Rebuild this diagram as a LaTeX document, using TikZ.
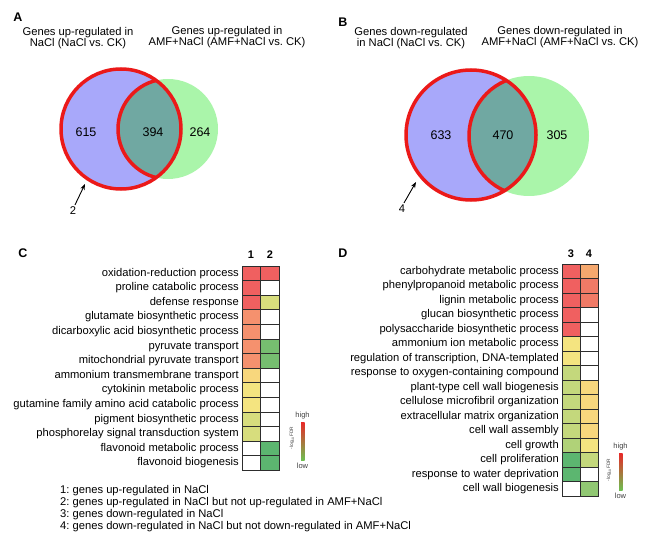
\documentclass[tikz,border=0pt]{standalone}
\usepackage{fontspec}
\setmainfont{Liberation Sans}
\usetikzlibrary{arrows.meta}
\frenchspacing

\definecolor{vennLeft}{RGB}{168,168,250}
\definecolor{vennRight}{RGB}{170,245,170}
\definecolor{vennBoth}{RGB}{112,168,162}
\definecolor{ringRed}{RGB}{235,25,25}
\definecolor{gridLine}{RGB}{45,45,45}
\definecolor{goRed}{RGB}{240,96,96}
\definecolor{goRedOrange}{RGB}{240,122,102}
\definecolor{goSalmon}{RGB}{245,145,110}
\definecolor{goOrange}{RGB}{245,168,110}
\definecolor{goGold}{RGB}{248,215,125}
\definecolor{goYellow}{RGB}{244,228,128}
\definecolor{goOlive}{RGB}{215,221,125}
\definecolor{goLime}{RGB}{196,216,124}
\definecolor{goLeaf}{RGB}{176,210,120}
\definecolor{goGreen}{RGB}{118,190,112}
\definecolor{goDeep}{RGB}{92,182,112}
\definecolor{goMoss}{RGB}{145,200,115}
\definecolor{barRed}{RGB}{232,40,40}
\definecolor{barYellow}{RGB}{242,228,110}
\definecolor{barGreen}{RGB}{110,190,80}

\begin{document}
\frenchspacing
\begin{tikzpicture}[x=1pt, y=-1pt,
  every node/.style = {inner sep=0pt, font=\fontsize{11.2}{11.6}\selectfont},
  panel/.style = {font=\fontsize{12.5}{14}\selectfont\bfseries},
  title/.style = {align=center},
  count/.style = {font=\fontsize{12.5}{14}\selectfont},
  colhead/.style = {font=\fontsize{11}{12}\selectfont\bfseries},
  term/.style = {anchor=east, text height=8pt, text depth=2.5pt},
  note/.style = {anchor=west, text height=8pt, text depth=2.5pt},
  cell/.style = {draw=gridLine, line width=0.9pt},
  ring/.style = {draw=ringRed, line width=3.5pt},
  pointer/.style = {-{Stealth[length=6pt,width=4.5pt]}, line width=0.9pt},
  scale label/.style = {font=\fontsize{7.5}{8}\selectfont, text=black!75},
  scale title/.style = {font=\fontsize{4.8}{5}\selectfont, text=black!75, rotate=90}]
\useasboundingbox (0,0) rectangle (652,545);

% A
\node[panel] (panelA) at (18,17) {A};
\node[title] (titleAL) at (78,38) {Genes up-regulated in\\NaCl (NaCl vs. CK)};
\node[title] (titleAR) at (227,37) {Genes up-regulated in\\AMF+NaCl (AMF+NaCl vs. CK)};
\coordinate (upL) at (121,129);
\coordinate (upR) at (168,129);
\fill[vennLeft] (upL) circle[radius=60pt];
\fill[vennRight] (upR) circle[radius=50pt];
\begin{scope}
  \clip (upL) circle[radius=60pt];
  \fill[vennBoth] (upR) circle[radius=50pt];
  \draw[ring] (upR) circle[radius=50pt];
\end{scope}
\draw[ring] (upL) circle[radius=60pt];
\node[count] (upOnly) at (86,132) {615};
\node[count] (upBoth) at (153,132) {394};
\node[count] (upAmf) at (200,132) {264};
\coordinate (tipA) at (85,184);
\node (markA) at (73,211) {2};
\draw[pointer] ([xshift=2pt,yshift=2pt]markA.north) -- (tipA);

% B
\node[panel] (panelB) at (343,22) {B};
\node[title] (titleBL) at (411,38) {Genes down-regulated\\in NaCl (NaCl vs. CK)};
\node[title] (titleBR) at (560,37) {Genes down-regulated in\\AMF+NaCl (AMF+NaCl vs. CK)};
\coordinate (downL) at (471,135);
\coordinate (downR) at (529,136);
\fill[vennLeft] (downL) circle[radius=65pt];
\fill[vennRight] (downR) circle[radius=60pt];
\begin{scope}
  \clip (downL) circle[radius=65pt];
  \fill[vennBoth] (downR) circle[radius=60pt];
  \draw[ring] (downR) circle[radius=60pt];
\end{scope}
\draw[ring] (downL) circle[radius=65pt];
\node[count] (downOnly) at (441,135) {633};
\node[count] (downBoth) at (503,135) {470};
\node[count] (downAmf) at (557,135) {305};
\coordinate (tipB) at (416,182);
\node (markB) at (402,209) {4};
\draw[pointer] ([xshift=2pt,yshift=2pt]markB.north) -- (tipB);

% C
\node[panel] (panelC) at (23,253) {C};
\node[colhead] (headOne) at (251,255) {1};
\node[colhead] (headTwo) at (270,255) {2};
\foreach \go/\ca/\cb [count=\i] in {
  oxidation-reduction process/goRed/goRed,
  proline catabolic process/goRed/white,
  defense response/goRed/goOlive,
  glutamate biosynthetic process/goSalmon/white,
  dicarboxylic acid biosynthetic process/goSalmon/white,
  pyruvate transport/goSalmon/goGreen,
  mitochondrial pyruvate transport/goSalmon/goGreen,
  ammonium transmembrane transport/goGold/white,
  cytokinin metabolic process/goYellow/white,
  gutamine family amino acid catabolic process/goYellow/white,
  pigment biosynthetic process/goOlive/white,
  phosphorelay signal transduction system/goOlive/white,
  flavonoid metabolic process/white/goDeep,
  flavonoid biogenesis/white/goDeep}{
  \node[term] (termC\i) at (239,{258.7+\i*14.6}) {\go};
  \draw[cell, fill=\ca] (242,{251.4+\i*14.6}) rectangle ++(18.5,14.6);
  \draw[cell, fill=\cb] (260.5,{251.4+\i*14.6}) rectangle ++(18.5,14.6);
}
\shade[top color=barRed, middle color=barYellow, bottom color=barGreen] (301,422) rectangle (304.5,460);
\node[scale label] (highC) at (302.5,416) {high};
\node[scale label] (lowC) at (302.5,466) {low};
\node[scale title] (fdrC) at (292,438) {-log\textsubscript{10}FDR};

% D
\node[panel] (panelD) at (343,253) {D};
\node[colhead] (headThree) at (571,254) {3};
\node[colhead] (headFour) at (589,254) {4};
\foreach \go/\ca/\cb [count=\i] in {
  carbohydrate metabolic process/goRed/goOrange,
  phenylpropanoid metabolic process/goRed/goRedOrange,
  lignin metabolic process/goRed/goRedOrange,
  glucan biosynthetic process/goRed/white,
  polysaccharide biosynthetic process/goRed/white,
  ammonium ion metabolic process/goYellow/white,
  {regulation of transcription, DNA-templated}/goYellow/white,
  response to oxygen-containing compound/goLime/white,
  plant-type cell wall biogenesis/goLime/goGold,
  cellulose microfibril organization/goLime/goGold,
  extracellular matrix organization/goLime/goGold,
  cell wall assembly/goLime/goGold,
  cell growth/goLeaf/goYellow,
  cell proliferation/goDeep/goLime,
  response to water deprivation/goDeep/white,
  cell wall biogenesis/white/goMoss}{
  \node[term] (termD\i) at (559,{256.75+\i*14.5}) {\go};
  \draw[cell, fill=\ca] (562,{249.5+\i*14.5}) rectangle ++(18,14.5);
  \draw[cell, fill=\cb] (580,{249.5+\i*14.5}) rectangle ++(18,14.5);
}
\shade[top color=barRed, middle color=barYellow, bottom color=barGreen] (619,453) rectangle (622.5,490);
\node[scale label] (highD) at (620.5,447) {high};
\node[scale label] (lowD) at (620.5,496) {low};
\node[scale title] (fdrD) at (609,470) {-log\textsubscript{10}FDR};

% key to the columns
\foreach \txt [count=\i] in {
  1: genes up-regulated in NaCl,
  2: genes up-regulated in NaCl but not up-regulated in AMF+NaCl,
  3: genes down-regulated in NaCl,
  4: genes down-regulated in NaCl but not down-regulated in AMF+NaCl}
  \node[note] (key\i) at (60,{479+\i*12}) {\txt};
\end{tikzpicture}
\end{document}
